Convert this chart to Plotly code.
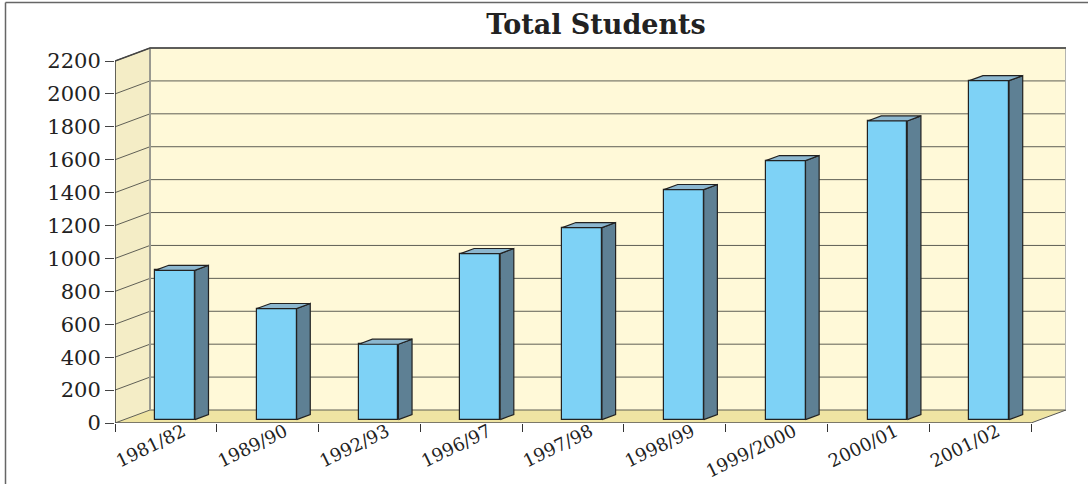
import plotly.graph_objects as go

# ---------------- data ----------------
categories = ["1981/82", "1989/90", "1992/93", "1996/97", "1997/98",
              "1998/99", "1999/2000", "2000/01", "2001/02"]
students = [907, 675, 458, 1009, 1167, 1398, 1574, 1815, 2060]
y_ticks = [0, 200, 400, 600, 800, 1000, 1200, 1400, 1600, 1800, 2000, 2200]
title_text = "Total Students"

# ---------------- geometry (pixel layout) ----------------
W, H = 1088, 484
PL, PR, PT, PB = 115, 1066, 46, 423          # plot area in px
DEPTH_PX_X, DEPTH_PX_Y = 35, 13             # 3D depth offset in px
YMAX_VAL = 2200
YMAX_PX = 362                               # px for 0..2200 on front plane

n = len(categories)
x_unit = (PR - PL - DEPTH_PX_X) / n
DX = DEPTH_PX_X / x_unit
y_unit = YMAX_PX / YMAX_VAL
DY = DEPTH_PX_Y / y_unit
x_max = n + DX
y_max = (PB - PT) / y_unit

D0, D1 = 0.26, 0.65     # bar depth (fraction of floor depth)
BW = 0.39               # bar width in category units

FRONT = "#7ED2F6"
SIDE = "#5E8094"
TOP = "#8CB7CF"
EDGE = "#222222"
BACK_WALL = "#FFF9D8"
LEFT_WALL = "#F4EDC6"
FLOOR = "#EFE4A3"
GRID = "#5f5f55"


def path(pts):
    return "M " + " L ".join(f"{x},{y}" for x, y in pts) + " Z"


def paper_x(px):
    return (px - PL) / (PR - PL)


def paper_y(py):
    return (PB - py) / (PB - PT)


shapes = []
# back wall
shapes.append(dict(type="path", xref="x", yref="y", layer="below",
                   path=path([(DX, DY), (n + DX, DY), (n + DX, YMAX_VAL + DY), (DX, YMAX_VAL + DY)]),
                   fillcolor=BACK_WALL, line=dict(width=0)))
# left wall
shapes.append(dict(type="path", xref="x", yref="y", layer="below",
                   path=path([(0, 0), (DX, DY), (DX, YMAX_VAL + DY), (0, YMAX_VAL)]),
                   fillcolor=LEFT_WALL, line=dict(width=0)))
# floor
shapes.append(dict(type="path", xref="x", yref="y", layer="below",
                   path=path([(0, 0), (n, 0), (n + DX, DY), (DX, DY)]),
                   fillcolor=FLOOR, line=dict(width=0)))
# gridlines (left wall + back wall)
for v in y_ticks:
    shapes.append(dict(type="line", xref="x", yref="y", layer="below",
                       x0=0, y0=v, x1=DX, y1=v + DY, line=dict(color=GRID, width=1)))
    shapes.append(dict(type="line", xref="x", yref="y", layer="below",
                       x0=DX, y0=v + DY, x1=n + DX, y1=v + DY, line=dict(color=GRID, width=1)))
# back wall vertical edges
shapes.append(dict(type="line", xref="x", yref="y", layer="below",
                   x0=DX, y0=DY, x1=DX, y1=YMAX_VAL + DY, line=dict(color="#9a9a90", width=2)))
shapes.append(dict(type="line", xref="x", yref="y", layer="below",
                   x0=n + DX, y0=DY, x1=n + DX, y1=YMAX_VAL + DY, line=dict(color="#b4b4b0", width=2)))
# front left axis line
shapes.append(dict(type="line", xref="x", yref="y", layer="below",
                   x0=0, y0=0, x1=0, y1=YMAX_VAL, line=dict(color="#333333", width=1.5)))
# floor front edge and right edge
shapes.append(dict(type="line", xref="x", yref="y", layer="below",
                   x0=0, y0=0, x1=n, y1=0, line=dict(color="#555555", width=1.5)))
shapes.append(dict(type="line", xref="x", yref="y", layer="below",
                   x0=n, y0=0, x1=n + DX, y1=DY, line=dict(color="#555555", width=1)))
# frame border of the picture (left and top)
shapes.append(dict(type="line", xref="paper", yref="paper",
                   x0=paper_x(5.5), x1=paper_x(5.5), y0=paper_y(2.5), y1=paper_y(H + 5),
                   line=dict(color="#666666", width=1.5)))
shapes.append(dict(type="line", xref="paper", yref="paper",
                   x0=paper_x(5.5), x1=paper_x(W + 5), y0=paper_y(2.5), y1=paper_y(2.5),
                   line=dict(color="#666666", width=1.5)))

fig = go.Figure()

# front faces of the bars
bar_x = [i + 0.5 + D0 * DX for i in range(n)]
fig.add_trace(go.Bar(x=bar_x, y=students, base=[D0 * DY] * n, width=BW,
                     marker=dict(color=FRONT, line=dict(color=EDGE, width=1.2)),
                     hoverinfo="skip", showlegend=False))

ddx = (D1 - D0) * DX
ddy = (D1 - D0) * DY
for i, v in enumerate(students):
    xl = bar_x[i] - BW / 2
    xr = bar_x[i] + BW / 2
    b0 = D0 * DY
    top = v + D0 * DY
    # side face
    fig.add_trace(go.Scatter(x=[xr, xr + ddx, xr + ddx, xr, xr],
                             y=[b0, b0 + ddy, top + ddy, top, b0],
                             fill="toself", fillcolor=SIDE, mode="lines",
                             line=dict(color=EDGE, width=1.2),
                             hoverinfo="skip", showlegend=False))
    # top face
    fig.add_trace(go.Scatter(x=[xl, xr, xr + ddx, xl + ddx, xl],
                             y=[top, top, top + ddy, top + ddy, top],
                             fill="toself", fillcolor=TOP, mode="lines",
                             line=dict(color=EDGE, width=1.2),
                             hoverinfo="skip", showlegend=False))

# left wall top edge and back wall top edge
fig.add_trace(go.Scatter(x=[0, DX, n + DX], y=[YMAX_VAL, YMAX_VAL + DY, YMAX_VAL + DY],
                         mode="lines", line=dict(color="#444444", width=1.5),
                         hoverinfo="skip", showlegend=False, cliponaxis=False))

# invisible trace on the label axis
fig.add_trace(go.Scatter(x=[i + 0.5 for i in range(n)], y=students, xaxis="x2",
                         mode="markers", marker=dict(opacity=0), hoverinfo="skip",
                         showlegend=False))

FONT = "DejaVu Serif"
fig.update_layout(
    width=W, height=H,
    margin=dict(l=PL, r=W - PR, t=PT, b=H - PB, pad=0, autoexpand=False),
    paper_bgcolor="white", plot_bgcolor="rgba(0,0,0,0)",
    shapes=shapes,
    title=dict(text=f"<b>{title_text}</b>", x=596 / W, xref="container", xanchor="center",
               y=1 - 25 / H, yref="container", yanchor="middle",
               font=dict(family=FONT, size=27, color="#222222")),
    xaxis=dict(range=[0, x_max], showgrid=False, zeroline=False, showline=False,
               tickmode="array", tickvals=list(range(n + 1)), showticklabels=False,
               ticks="outside", ticklen=8, tickcolor="#333333", tickwidth=1.2,
               fixedrange=True, automargin=False),
    xaxis2=dict(range=[0, x_max], overlaying="x", anchor="free", position=6 / (PB - PT),
                side="bottom",
                showgrid=False, zeroline=False, showline=False,
                tickmode="array", tickvals=[i + 0.5 + 0.17 for i in range(n)],
                ticktext=categories, tickangle=-26,
                ticks="",
                tickfont=dict(family=FONT, size=18, color="#222222"),
                fixedrange=True, automargin=False),
    yaxis=dict(range=[0, y_max], showgrid=False, zeroline=False, showline=False,
               tickmode="array", tickvals=y_ticks, ticktext=[str(v) for v in y_ticks],
               ticks="outside", ticklen=9, tickcolor="#444444", tickwidth=1.2,
               tickfont=dict(family=FONT, size=21, color="#222222"),
               fixedrange=True, automargin=False),
    bargap=0,
)

fig.write_html("out.html", config={"displayModeBar": False},
               post_script="document.body.style.margin='0';document.body.style.overflow='hidden';")
